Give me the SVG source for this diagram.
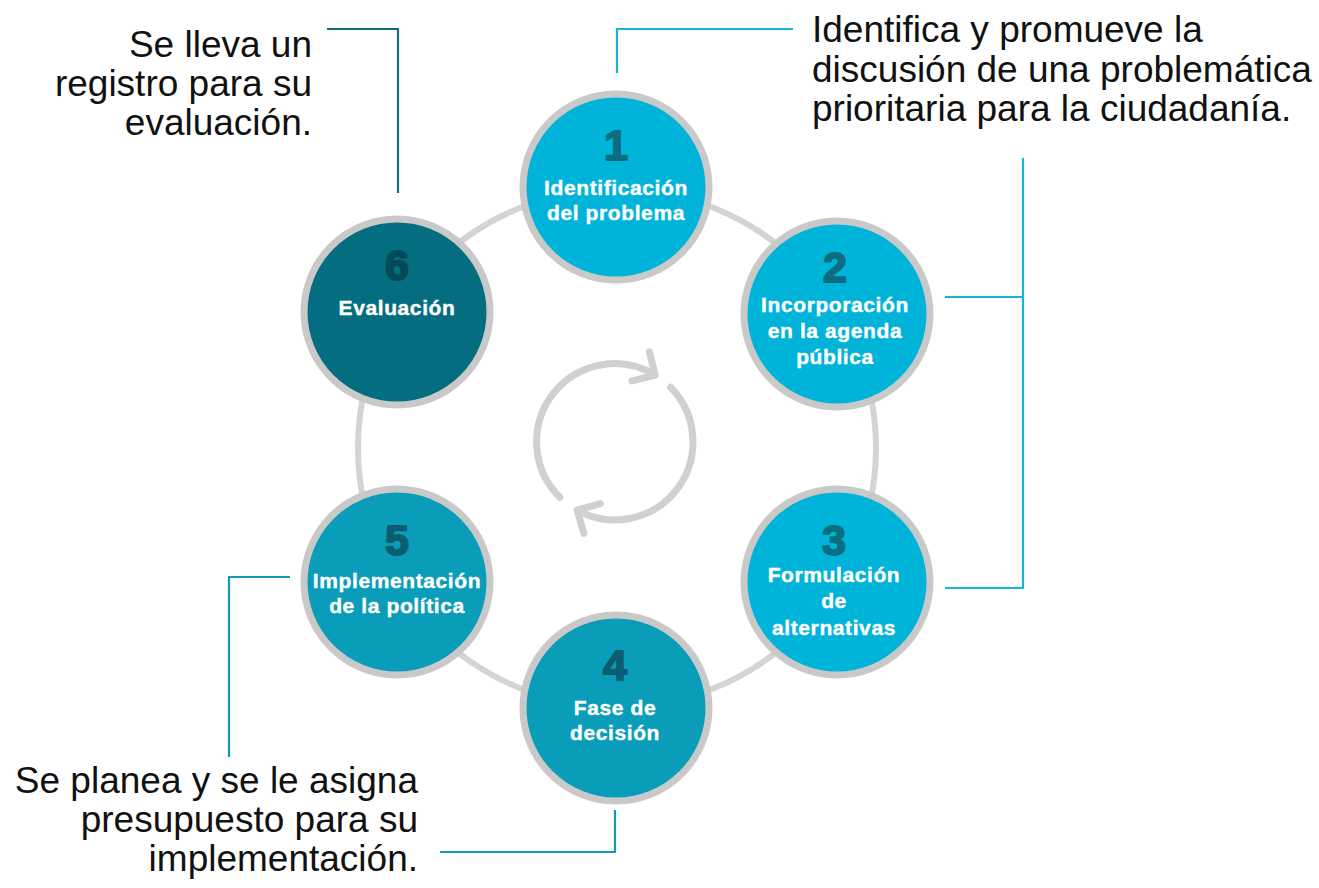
<svg xmlns="http://www.w3.org/2000/svg" width="1319" height="888" viewBox="0 0 1319 888">
  <style>
    .note { font-family: "Liberation Sans", Arial, sans-serif; font-size: 37px; fill: #111111; }
    .lbl { font-family: "Liberation Sans", Arial, sans-serif; font-size: 21px; font-weight: bold; fill: #ffffff; stroke: #ffffff; stroke-width: 0.4px; text-anchor: middle; letter-spacing: 0.6px; }
    .num { font-family: "Liberation Sans", Arial, sans-serif; font-size: 43px; font-weight: bold; text-anchor: middle; stroke-width: 2px; stroke-linejoin: round; }
    .disc { stroke: #c9c9c9; stroke-width: 7; }
    .light { fill: #00b4d9; }
    .mid { fill: #0a9dba; }
    .dark { fill: #046d80; }
    .conn { fill: none; stroke-width: 2.2; }
    .cycle { fill: none; stroke: #d0d0d0; stroke-width: 7; stroke-linecap: round; stroke-linejoin: round; }
  </style>
  <rect width="1319" height="888" fill="#ffffff"/>

  <!-- ring and center cycle icon -->
  <g id="ring">
    <circle cx="617" cy="448" r="259" fill="none" stroke="#d4d4d4" stroke-width="6"/>
    <path class="cycle" d="M559.8 497.2 A78 78 0 0 1 655.2 375.1 M649.4 351.8 L655.2 375.1 L631.9 380.9"/>
    <path class="cycle" d="M670.6 387.3 A78 78 0 0 1 577.2 510.2 M600.3 503.6 L577.2 510.2 L583.8 533.3"/>
  </g>

  <!-- connectors -->
  <g id="connectors">
    <polyline class="conn" stroke="#14b5d8" points="617,73 617,29 793,29"/>
    <polyline class="conn" stroke="#0f6c7e" points="327,29 398,29 398,193"/>
    <polyline class="conn" stroke="#14b5d8" points="1023,158 1023,588 945,588"/>
    <line class="conn" stroke="#14b5d8" x1="945" y1="297" x2="1023" y2="297"/>
    <polyline class="conn" stroke="#1299b5" points="290,577 229,577 229,757"/>
    <polyline class="conn" stroke="#1299b5" points="615,810 615,852 440,852"/>
  </g>

  <g id="node1">
    <circle class="disc light" cx="616" cy="187" r="93"/>
    <text class="num" x="616" y="160" fill="#0c6c80" stroke="#0c6c80">1</text>
    <text class="lbl" x="616" y="195">Identificación</text>
    <text class="lbl" x="616" y="220">del problema</text>
  </g>
  <g id="node2">
    <circle class="disc light" cx="837" cy="314" r="93"/>
    <text class="num" x="835" y="282" fill="#0c6c80" stroke="#0c6c80">2</text>
    <text class="lbl" x="835" y="312">Incorporación</text>
    <text class="lbl" x="835" y="338">en la agenda</text>
    <text class="lbl" x="835" y="364">pública</text>
  </g>
  <g id="node3">
    <circle class="disc light" cx="837" cy="582" r="93"/>
    <text class="num" x="834" y="555" fill="#0c6c80" stroke="#0c6c80">3</text>
    <text class="lbl" x="834" y="582">Formulación</text>
    <text class="lbl" x="834" y="608">de</text>
    <text class="lbl" x="834" y="635">alternativas</text>
  </g>
  <g id="node4">
    <circle class="disc mid" cx="616" cy="708" r="93"/>
    <text class="num" x="615" y="680" fill="#0b5e70" stroke="#0b5e70">4</text>
    <text class="lbl" x="615" y="715">Fase de</text>
    <text class="lbl" x="615" y="740">decisión</text>
  </g>
  <g id="node5">
    <circle class="disc mid" cx="397" cy="582" r="93"/>
    <text class="num" x="397" y="555" fill="#0b5e70" stroke="#0b5e70">5</text>
    <text class="lbl" x="397" y="588">Implementación</text>
    <text class="lbl" x="397" y="613">de la política</text>
  </g>
  <g id="node6">
    <circle class="disc dark" cx="397" cy="312" r="93"/>
    <text class="num" x="397" y="280" fill="#024a58" stroke="#024a58">6</text>
    <text class="lbl" x="397" y="315">Evaluación</text>
  </g>

  <g id="note-evaluacion">
    <text class="note" text-anchor="end" x="312" y="57">Se lleva un</text>
    <text class="note" text-anchor="end" x="312" y="96">registro para su</text>
    <text class="note" text-anchor="end" x="312" y="135">evaluación.</text>
  </g>
  <g id="note-identifica">
    <text class="note" x="812" y="42">Identifica y promueve la</text>
    <text class="note" x="812" y="82">discusión de una problemática</text>
    <text class="note" x="812" y="121">prioritaria para la ciudadanía.</text>
  </g>
  <g id="note-planea">
    <text class="note" text-anchor="end" x="418" y="793">Se planea y se le asigna</text>
    <text class="note" text-anchor="end" x="418" y="832">presupuesto para su</text>
    <text class="note" text-anchor="end" x="418" y="871">implementación.</text>
  </g>
</svg>
